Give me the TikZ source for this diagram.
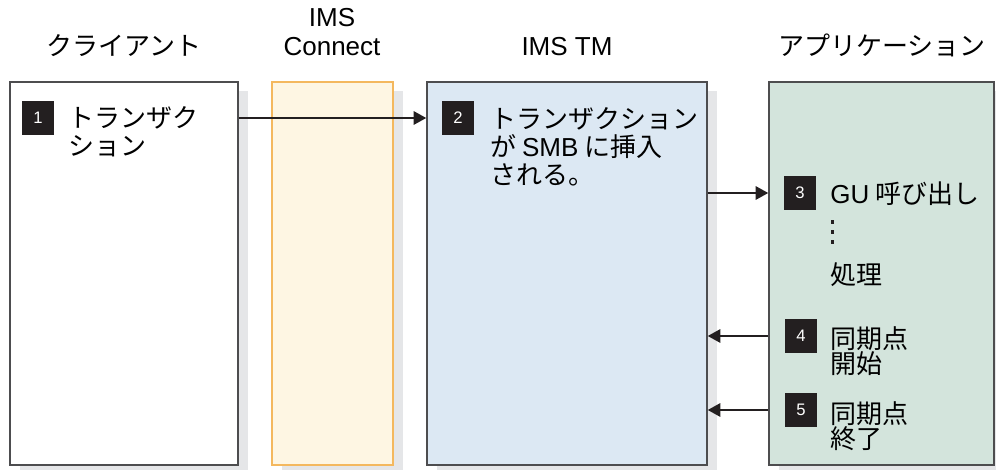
\documentclass[tikz,border=0pt]{standalone}
\usepackage{fontspec}
\setmainfont{Noto Sans CJK JP}
\newfontfamily\lat{Liberation Sans}
\usepackage{tikz}
\usetikzlibrary{arrows.meta,fit,shadows}
\usepackage{xcolor}
\definecolor{rahmen}{HTML}{4D4D4F}
\definecolor{orangerand}{HTML}{F4B85E}
\definecolor{creme}{HTML}{FEF6E3}
\definecolor{hellblau}{HTML}{DCE8F3}
\definecolor{hellgruen}{HTML}{D3E4DC}
\definecolor{schatten}{HTML}{E5E6E8}
\definecolor{markefarbe}{HTML}{231F20}
\tikzset{
  spalte/.style={inner sep=0pt, line width=1.1pt, draw=rahmen,
    drop shadow={shadow xshift=7.5pt, shadow yshift=-6.75pt, fill=schatten, opacity=1}},
  kopf/.style={anchor=base, inner sep=0pt, font=\fontsize{19.5}{23}\selectfont},
  nummer/.style={fill=markefarbe, text=white, inner sep=0pt, minimum width=24pt,
    minimum height=25.5pt, font=\lat\fontsize{12.5}{14}\selectfont},
  eintrag/.style={anchor=north west, inner sep=0pt, align=left, font=\fontsize{19.5}{21}\selectfont},
  eng/.style={font=\fontsize{19.5}{16.5}\selectfont},
  pfeil/.style={line width=1.7pt, draw=markefarbe, -{Triangle[length=9.5pt, width=10pt]}},
}

\begin{document}
\begin{tikzpicture}[x=0.75pt, y=-0.75pt]
  \useasboundingbox (0,0) rectangle (996,470);
  % Spaltenköpfe
  \node[kopf] (hclient) at (124,56) {クライアント};
  \node[kopf] (hims) at (332,27) {\lat IMS};
  \node[kopf] (hconn) at (332,56) {\lat Connect};
  \node[kopf] (htm) at (567,56) {\lat IMS TM};
  \node[kopf] (happ) at (882,56) {アプリケーション};
  % Spalten mit Schatten
  \node[spalte, fill=white, fit={(10,82) (238,465)}] (client) {};
  \node[spalte, fill=creme, draw=orangerand, fit={(272,82) (393,465)}] (conn) {};
  \node[spalte, fill=hellblau, fit={(427,82) (707,465)}] (tm) {};
  \node[spalte, fill=hellgruen, fit={(769,82) (994,465)}] (app) {};
  % Schritte 1--5
  \node[nummer] (n1) at (38,118) {1};
  \node[nummer] (n2) at (458,118) {2};
  \node[nummer] (n3) at (800,193) {3};
  \node[nummer] (n4) at (801,336) {4};
  \node[nummer] (n5) at (801,410) {5};
  \node[eintrag] (t1) at (68,106) {トランザク\\ション};
  \node[eintrag] (t2) at (490,107) {トランザクション\\が {\lat SMB} に挿入\\される。};
  \node[eintrag] (t3) at (830,182) {{\lat GU} 呼び出し};
  \foreach \y in {222,232,242}
    \fill[markefarbe] (830.5,\y-1.8) rectangle ++(3.6,3.6);
  \node[eintrag] (t3b) at (830,262) {処理};
  \node[eintrag, eng] (t4) at (830,326) {同期点\\開始};
  \node[eintrag, eng] (t5) at (830,401) {同期点\\終了};
  % Pfeile
  \draw[pfeil] (client.east |- n1) -- (tm.west |- n1);
  \draw[pfeil] (tm.east |- n3) -- (app.west |- n3);
  \draw[pfeil] (app.west |- n4) -- (tm.east |- n4);
  \draw[pfeil] (app.west |- n5) -- (tm.east |- n5);
\end{tikzpicture}
\end{document}
